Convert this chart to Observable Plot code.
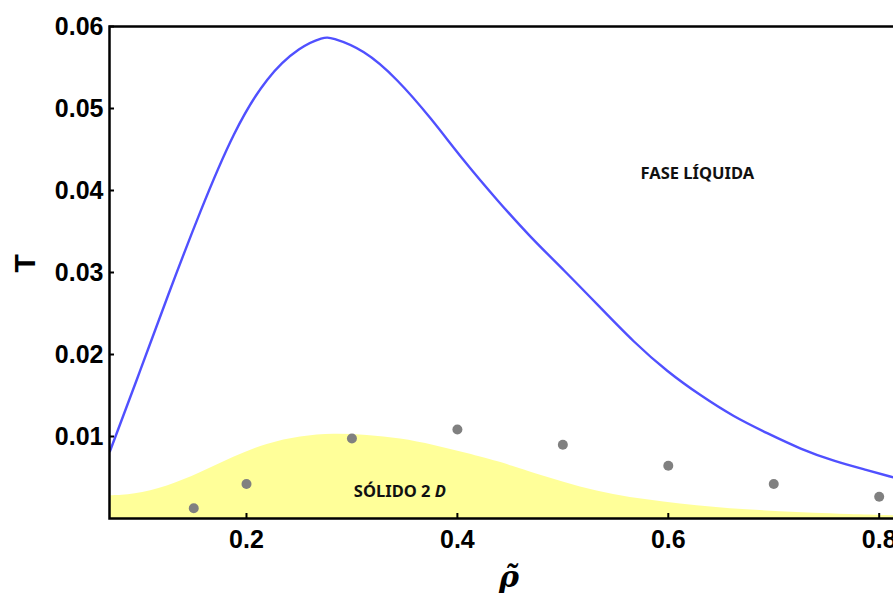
<!DOCTYPE html>
<html><head><meta charset="utf-8">
<script src="https://cdn.jsdelivr.net/npm/d3@7"></script>
<script src="https://cdn.jsdelivr.net/npm/@observablehq/plot@0.6"></script>
<style>
body{margin:0;overflow:hidden;background:#fff}
#chart{width:893px;height:602px;overflow:hidden}
#chart svg{max-width:none !important}
</style>
</head><body><div id="chart"></div>
<script>
// Liquid-phase boundary (blue line)
const liquidRho = [0.0705,0.0995,0.1248,0.1564,0.188,0.2196,0.2512,0.2733,0.2797,0.3113,0.343,0.3745,0.406,0.4378,0.4693,0.501,0.535,0.5673,0.599,0.6305,0.6621,0.6938,0.7257,0.757,0.7886,0.8136];
const liquidT   = [0.0082,0.0181,0.0270,0.0376,0.0473,0.0540,0.0576,0.0587,0.0587,0.0572,0.0536,0.0489,0.0436,0.0388,0.0343,0.0303,0.0258,0.0215,0.0179,0.0150,0.0124,0.0104,0.00845,0.0070,0.0059,0.0050];
// 2D solid region (yellow area)
const solidRho = [0.070,0.093,0.125,0.156,0.188,0.2196,0.2512,0.283,0.3145,0.346,0.378,0.4093,0.4409,0.4535,0.4852,0.5167,0.548,0.58,0.6116,0.643,0.6748,0.706,0.738,0.7696,0.8136];
const solidT   = [0.00276,0.00286,0.00387,0.0055,0.00752,0.00915,0.01004,0.01037,0.01017,0.00976,0.00895,0.00794,0.00685,0.0063,0.0050,0.0038,0.0029,0.00225,0.00177,0.00136,0.00104,0.00083,0.00063,0.0005,0.00034];
// Simulation points (gray dots)
const simRho = [0.15,0.2,0.3,0.4,0.5,0.6,0.7,0.8];
const simT   = [0.00124,0.0042,0.00976,0.01086,0.00899,0.00643,0.0042,0.00265];
// Ticks
const xTicks = [0.2,0.4,0.6,0.8];
const yTicks = [0.01,0.02,0.03,0.04,0.05,0.06];
// Annotations
const labelNames = ["FASE LÍQUIDA","SÓLIDO 2 D"];
const labelRho = [0.6275,0.3455];
const labelT = [0.0420,0.00326];

const liquid = liquidRho.map((x,i)=>({x, y: liquidT[i]}));
const solid = solidRho.map((x,i)=>({x, y: solidT[i]}));
const sim = simRho.map((x,i)=>({x, y: simT[i]}));
const labels = labelNames.map((t,i)=>({t, x: labelRho[i], y: labelT[i]}));

const bold = {fontWeight: "bold", fontSize: 25};

const chart = Plot.plot({
  width: 900, height: 602,
  marginTop: 26, marginLeft: 109, marginRight: 0, marginBottom: 84,
  style: {fontFamily: "'Liberation Sans', Arial, sans-serif", background: "white", color: "black", maxWidth: "none"},
  x: {domain: [0.0701, 0.8202]},
  y: {domain: [0, 0.06]},
  marks: [
    Plot.areaY(solid, {x: "x", y: "y", fill: "#ffff99", curve: "basis", clip: true}),
    Plot.line(liquid, {x: "x", y: "y", stroke: "#5050ff", strokeWidth: 2.4, curve: "basis", clip: true}),
    Plot.dot(sim, {x: "x", y: "y", r: 5, fill: "#808080"}),
    Plot.text(labels, {x: "x", y: "y", text: "t", fontFamily: "'Noto Sans', sans-serif", fontWeight: "bold", fontSize: 16.5, fill: "#111"}),
    Plot.tickX(xTicks, {x: d => d, insetTop: 487, stroke: "black", strokeWidth: 2}),
    Plot.tickY(yTicks, {y: d => d, insetRight: 786, stroke: "black", strokeWidth: 2}),
    Plot.axisX(xTicks, {tickSize: 0, tickPadding: 12, tickFormat: d3.format(".1f"), ...bold, label: null}),
    Plot.axisY(yTicks, {tickSize: 0, tickPadding: 6, tickFormat: d3.format(".2f"), ...bold, label: null}),
    Plot.text(["T"], {frameAnchor: "left", dx: -84, rotate: -90, fontSize: 30, fontWeight: "bold"}),
    Plot.text(["ρ\u0303"], {frameAnchor: "bottom", dx: 4, dy: 68, fontSize: 30, fontWeight: "bold", fontStyle: "italic", fontFamily: "'DejaVu Serif', serif"}),
    Plot.frame({stroke: "black", strokeWidth: 2.5})
  ]
});
chart.style.maxWidth = "none";

d3.select(chart).selectAll("text").filter(function(){return this.textContent === "SÓLIDO 2 D";}).each(function(){
  const t = d3.select(this);
  t.text(null);
  t.append("tspan").text("SÓLIDO 2 ");
  t.append("tspan").attr("font-style", "italic").text("D");
});

document.getElementById("chart").append(chart);
</script>
</body></html>
